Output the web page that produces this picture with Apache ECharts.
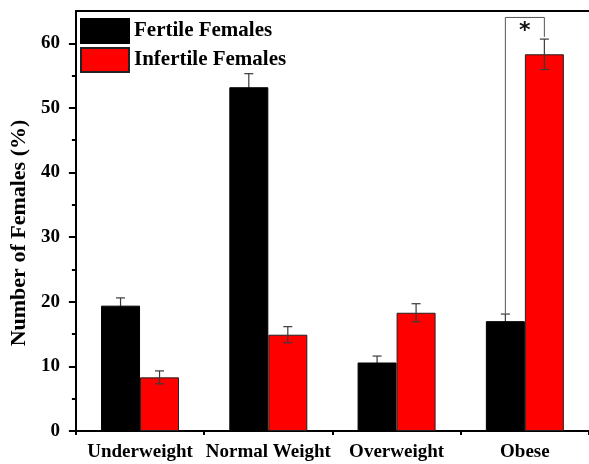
<!DOCTYPE html>
<html>
<head>
<meta charset="utf-8">
<script src="https://cdn.jsdelivr.net/npm/echarts@6/dist/echarts.min.js"></script>
<style>html,body{margin:0;padding:0;background:#fff;}#c{width:589px;height:464px;}</style>
</head>
<body>
<div id="c"></div>
<script>
const categories = ['Underweight', 'Normal Weight', 'Overweight', 'Obese'];
const seriesNames = ['Fertile Females', 'Infertile Females'];
const fertile = [19.4, 53.2, 10.6, 17.0];
const fertileErr = [1.2, 2.1, 1.0, 1.1];
const infertile = [8.3, 14.9, 18.3, 58.3];
const infertileErr = [1.0, 1.25, 1.4, 2.35];
const yTicks = [0, 10, 20, 30, 40, 50, 60];
const yMinorTicks = [5, 15, 25, 35, 45, 55];
// significance bracket: category, left end value, top value, right end value, label
const sigCategory = ['Obese'];
const sigLeft = [18.2];
const sigTop = [64.0];
const sigRight = [61.0];
const sigLabel = ['*'];

const BAR_W = 39;
const SERIF = "'Times New Roman','Liberation Serif',serif";
const chart = echarts.init(document.getElementById('c'), null, {renderer: 'canvas'});

function errRender(offsetSign, vals, errs) {
  return function (params, api) {
    const i = api.value(0);
    const v = vals[i], e = errs[i];
    const c = api.coord([i, v]);
    const x = c[0] + offsetSign * BAR_W / 2;
    const yTop = api.coord([i, v + e])[1];
    const yBot = api.coord([i, v - e])[1];
    const cap = 4.5;
    const st = {stroke: '#3a3a3a', lineWidth: 1.2};
    return {
      type: 'group',
      children: [
        {type: 'line', shape: {x1: x, y1: yTop, x2: x, y2: yBot}, style: st},
        {type: 'line', shape: {x1: x - cap, y1: yTop, x2: x + cap, y2: yTop}, style: st},
        {type: 'line', shape: {x1: x - cap, y1: yBot, x2: x + cap, y2: yBot}, style: st}
      ]
    };
  };
}

const option = {
  backgroundColor: '#fff',
  animation: false,
  grid: {left: 74, right: -2, top: 11, bottom: 33},
  legend: {
    data: seriesNames,
    orient: 'vertical',
    left: 75, top: 13,
    itemWidth: 48, itemHeight: 24, itemGap: 3,
    icon: 'rect',
    textStyle: {fontFamily: SERIF, fontWeight: 'bold', fontSize: 21, color: '#000'}
  },
  xAxis: [{
    type: 'category',
    data: categories,
    boundaryGap: true,
    axisLine: {lineStyle: {color: '#000', width: 2}},
    axisTick: {alignWithLabel: true, length: 8, lineStyle: {color: '#000', width: 2}},
    axisLabel: {margin: 12, color: '#000', fontFamily: SERIF, fontWeight: 'bold', fontSize: 19, interval: 0},
    splitLine: {show: false}
  }, {
    type: 'category',
    data: categories,
    position: 'bottom',
    boundaryGap: true,
    axisLine: {show: false},
    axisTick: {show: true, length: 4, lineStyle: {color: '#000', width: 2}},
    axisLabel: {show: false},
    splitLine: {show: false}
  }, {
    type: 'category',
    data: categories,
    position: 'top',
    axisLine: {show: true, lineStyle: {color: '#000', width: 2}},
    axisTick: {show: false},
    axisLabel: {show: false},
    splitLine: {show: false}
  }],
  yAxis: [{
    type: 'value',
    min: 0, max: 65,
    name: 'Number of Females (%)',
    nameLocation: 'middle',
    nameGap: 43,
    nameTextStyle: {fontFamily: SERIF, fontWeight: 'bold', fontSize: 22, color: '#000', padding: [0, 24, 0, 0]},
    axisLine: {show: true, lineStyle: {color: '#000', width: 2}},
    axisTick: {show: true, length: 7, customValues: yTicks, lineStyle: {color: '#000', width: 2}},
    axisLabel: {margin: 16, customValues: yTicks, color: '#000', fontFamily: SERIF, fontWeight: 'bold', fontSize: 19},
    splitLine: {show: false}
  }, {
    type: 'value',
    min: 0, max: 65,
    position: 'left',
    axisLine: {show: false},
    axisTick: {show: true, length: 4, customValues: yMinorTicks, lineStyle: {color: '#000', width: 2}},
    axisLabel: {show: false},
    splitLine: {show: false}
  }],
  series: [{
    name: seriesNames[0],
    type: 'bar',
    data: fertile,
    barWidth: BAR_W,
    barGap: '0%',
    z: 2,
    itemStyle: {color: '#000', borderColor: '#000', borderWidth: 1}
  }, {
    name: seriesNames[1],
    type: 'bar',
    data: infertile,
    barWidth: BAR_W,
    barGap: '0%',
    z: 2,
    itemStyle: {color: '#ff0000', borderColor: '#222', borderWidth: 1}
  }, {
    type: 'custom',
    z: 1,
    data: fertile.map((v, i) => [i, v]),
    renderItem: errRender(-1, fertile, fertileErr)
  }, {
    type: 'custom',
    z: 10,
    data: infertile.map((v, i) => [i, v]),
    renderItem: errRender(1, infertile, infertileErr)
  }, {
    type: 'custom',
    z: 10,
    data: sigCategory.map((c, k) => [categories.indexOf(c), k]),
    renderItem: function (params, api) {
      const i = api.value(0), k = api.value(1);
      const cx = api.coord([i, 0])[0];
      const xl = cx - BAR_W / 2, xr = cx + BAR_W / 2;
      const yl = api.coord([i, sigLeft[k]])[1];
      const yt = api.coord([i, sigTop[k]])[1];
      const yr = api.coord([i, sigRight[k]])[1];
      return {
        type: 'group',
        children: [
          {type: 'polyline', shape: {points: [[xl, yl], [xl, yt], [xr, yt], [xr, yr]]},
           style: {stroke: '#555', lineWidth: 1, fill: null}},
          {type: 'text', x: cx, y: yt + 14,
           style: {text: sigLabel[k], fontFamily: 'DejaVu Sans', fontWeight: 'bold', fontSize: 22, fill: '#111', align: 'center', verticalAlign: 'middle'}}
        ]
      };
    }
  }]
};
chart.setOption(option);
</script>
</body>
</html>
